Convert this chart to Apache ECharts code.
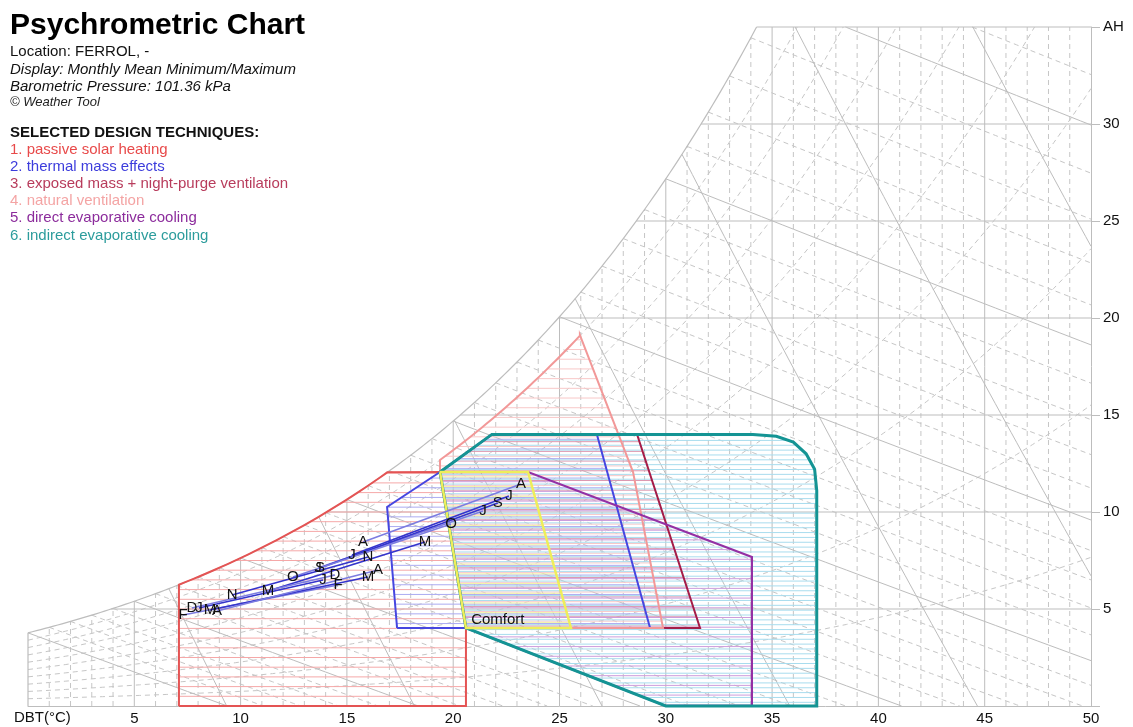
<!DOCTYPE html>
<html><head><meta charset="utf-8">
<script src="https://cdn.jsdelivr.net/npm/echarts@6/dist/echarts.min.js"></script>
<style>html,body{margin:0;padding:0;background:#fff}#c{width:1133px;height:727px}</style>
</head><body><div id="c"></div>
<script>
// ---------------- data ----------------
const PRESSURE = 101.36;
const xTickLabels = [5,10,15,20,25,30,35,40,45,50];
const yTickLabels = [5,10,15,20,25,30];
const monthLabels = ['J','F','M','A','M','J','J','A','S','O','N','D'];
const minT  = [8.04,7.29,8.56,8.89,11.29,13.64,15.24,15.76,13.73,12.46,9.60,7.71];
const minAH = [5.05,4.69,4.95,4.90,5.93,7.11,7.78,8.45,7.11,6.65,5.72,5.05];
const maxT  = [13.88,14.58,15.99,16.46,18.67,21.40,22.62,23.19,22.10,19.90,15.99,14.44];
const maxAH = [6.49,6.24,6.65,7.01,8.45,10.05,10.82,11.44,10.46,9.38,7.68,6.75];

const techniques = ['1. passive solar heating','2. thermal mass effects','3. exposed mass + night-purge ventilation','4. natural ventilation','5. direct evaporative cooling','6. indirect evaporative cooling'];
const techColors = ['#e84a4a','#3c3cdc','#b83c5c','#f4a4a4','#8c2c9c','#2c9c9c'];

// zone vertices (DBT °C, AH g/kg); ['sat',a,b] follows saturation, ['rh',r,a,b] follows an RH curve
const zonePassiveSolar = [[7.1,0],['sat',7.1,16.9],[19.38,12.06],[20.6,4.02],[20.6,0]];
const zoneThermalMass  = [[17.36,4.02],[29.26,4.02],[26.76,14.0],[21.82,14.0],[19.38,12.06],[16.89,10.26]];
const zoneExposedMass  = [[20.6,4.02],[31.61,4.02],[28.65,14.0],[21.82,14.0],[19.38,12.06]];
const zoneNaturalVent  = [[20.6,4.02],[29.87,4.02],[28.46,12.06],[25.96,19.12],['rh',0.9,25.96,19.38],[19.38,12.06]];
const zoneDirectEvap   = [[19.38,12.06],[23.52,12.06],[34.05,7.68],[34.05,0],[30.0,0],[20.6,4.02]];
const zoneIndirectEvap = [[19.38,12.06],[21.82,14.0],[34.1,14.0],[35.2,13.9],[36.0,13.6],[36.6,13.0],[37.0,12.2],[37.1,11.1],[37.1,0],[30.0,0],[20.6,4.02]];
const zoneComfort      = [[19.38,12.06],[23.52,12.06],[25.54,4.02],[20.6,4.02]];
const comfortLabel = [22.1,4.43];

// ---------------- psychrometrics ----------------
const P = PRESSURE;
const ps = t => 0.61078*Math.exp(17.27*t/(t+237.3));
const wsat = t => { const p = ps(t); return 622*p/(P-p); };
const wrh = (t,rh) => { const p = rh*ps(t); return 622*p/(P-p); };
const wwb = (t,twb) => { const w = wsat(twb)/1000; return 1000*((2501-2.326*twb)*w - 1.006*(t-twb))/(2501+1.86*t-4.186*twb); };
const wvol = (t,v) => 1000*(v*P/0.287042/(t+273.15)-1)/1.607858;
function tsat(w){ let a=-10,b=60; for(let i=0;i<60;i++){ const m=(a+b)/2; if(wsat(m)<w) a=m; else b=m; } return (a+b)/2; }
const inside = (t,w) => t>=-1e-9 && t<=50+1e-9 && w>=-1e-9 && w<=35+1e-9 && w<=wsat(t)+1e-6;
function trace(f,t0,t1,dt){
  const runs=[]; let cur=null, prevT=null, prevIn=false;
  for(let t=t0; t<=t1+1e-9; t+=dt){
    const tin = inside(t,f(t));
    if(prevT!==null && tin!==prevIn){
      let a=prevT,b=t;
      for(let i=0;i<40;i++){ const m=(a+b)/2; if(inside(m,f(m))===prevIn) a=m; else b=m; }
      const tb = prevIn ? a : b;
      if(prevIn){ cur.push([tb,f(tb)]); runs.push(cur); cur=null; } else { cur=[[tb,f(tb)]]; }
    }
    if(tin){ if(!cur) cur=[]; cur.push([t,f(t)]); }
    prevT=t; prevIn=tin;
  }
  if(cur && cur.length>1) runs.push(cur);
  return runs;
}
function expand(poly){
  const out=[];
  poly.forEach(v=>{
    if(v[0]==='sat'){ const a=v[1],b=v[2]; for(let i=0;i<=30;i++){ const t=a+(b-a)*i/30; out.push([t,wsat(t)]); } }
    else if(v[0]==='rh'){ const r=v[1],a=v[2],b=v[3]; for(let i=0;i<=30;i++){ const t=a+(b-a)*i/30; out.push([t,wrh(t,r)]); } }
    else out.push(v);
  });
  return out;
}
function hatch(poly,spacing,offset){
  const segs=[]; let ymin=Infinity,ymax=-Infinity;
  poly.forEach(p=>{ ymin=Math.min(ymin,p[1]); ymax=Math.max(ymax,p[1]); });
  for(let y=Math.floor((ymin-offset)/spacing)*spacing+offset; y<ymax; y+=spacing){
    if(y<=ymin) continue;
    const xs=[];
    for(let i=0;i<poly.length;i++){
      const a=poly[i], b=poly[(i+1)%poly.length];
      if((a[1]<=y&&b[1]>y)||(b[1]<=y&&a[1]>y)) xs.push(a[0]+(y-a[1])*(b[0]-a[0])/(b[1]-a[1]));
    }
    xs.sort((p,q)=>p-q);
    for(let k=0;k+1<xs.length;k+=2) segs.push([[xs[k],y],[xs[k+1],y]]);
  }
  return segs;
}

// ---------------- build line layers ----------------
const gridLayer=[], hatchLayer=[], zoneLayer=[];
const SOLID='#bdbdbd', DASH='#c6c6c6';
const add=(layer,pts,stroke,width,dash)=>layer.push({pts,stroke,width,dash});

for(let t=1;t<50;t++){
  const top=Math.min(35,wsat(t));
  add(gridLayer,[[t,0],[t,top]], t%5===0?SOLID:DASH, 1, t%5===0?null:[5,4]);
}
yTickLabels.forEach(w=>add(gridLayer,[[tsat(w),w],[50,w]],SOLID,1,null));
for(let r=1;r<=9;r++) trace(t=>wrh(t,r/10),0,50,0.25).forEach(run=>add(gridLayer,run,DASH,1,[5,4]));
for(let twb=0;twb<=40;twb++) trace(t=>wwb(t,twb),twb,50,0.5).forEach(run=>add(gridLayer,run,twb%5===0?SOLID:DASH,1,twb%5===0?null:[5,4]));
[0.80,0.825,0.85,0.875,0.90,0.925,0.95].forEach(v=>trace(t=>wvol(t,v),0,50,0.25).forEach(run=>add(gridLayer,run,SOLID,1,null)));
trace(wsat,0,50,0.2).forEach(run=>add(gridLayer,run,SOLID,1.2,null));
add(gridLayer,[[0,0],[0,wsat(0)]],SOLID,1.2,null);
add(gridLayer,[[tsat(35),35],[50,35]],SOLID,1.2,null);

const zones = [
  [zonePassiveSolar,'#e45454',2,'#f5a8a8',0.5,0.0],
  [zoneThermalMass,'#4646e0',2,'#acacf2',0.5,0.25],
  [zoneExposedMass,'#a41c48',2,'#dc98b0',0.5,0.125],
  [zoneNaturalVent,'#f29898',2,'#f8c8c8',0.5,0.375],
  [zoneDirectEvap,'#9430a4',2.2,'#cc9cdc',0.5,0.0625],
  [zoneIndirectEvap,'#149494',3,'#a8dcee',0.25,0.19],
  [zoneComfort,'#eeee5a',2.5,'#f2f2a4',0.5,0.31]
];
zones.forEach(z=>{ hatch(expand(z[0]),z[4],z[5]).forEach(s=>add(hatchLayer,s,z[3],1,null)); });
zones.forEach(z=>{ const poly=expand(z[0]); add(zoneLayer,poly.concat([poly[0]]),z[1],z[2],null); });

const monthLayer=[];
monthLabels.forEach((m,i)=>add(monthLayer,[[minT[i],minAH[i]],[maxT[i],maxAH[i]]],i%2?'#7c7ce0':'#3434cc',1.6,null));

function polySeries(layer,z){
  return {
    type:'custom', coordinateSystem:'cartesian2d', z, silent:true, animation:false, clip:false,
    data: layer.map((p,i)=>[p.pts[0][0],p.pts[0][1],i]), encode:{x:0,y:1},
    renderItem:(params,api)=>{
      const p=layer[api.value(2)];
      return {type:'polyline', shape:{points:p.pts.map(q=>api.coord(q))},
        style:{stroke:p.stroke,lineWidth:p.width,lineDash:p.dash||null,fill:'none'}};
    }
  };
}
const textItems=[];
monthLabels.forEach((m,i)=>{ textItems.push([minT[i],minAH[i],m]); textItems.push([maxT[i],maxAH[i],m]); });
textItems.push([comfortLabel[0],comfortLabel[1],'Comfort']);

const chart=echarts.init(document.getElementById('c'),null,{renderer:'canvas'});
const FONT='Liberation Sans, Arial, sans-serif';
const txt=(x,y,text,font,fill)=>({type:'text',left:x,top:y,silent:true,style:{text,font,fill:fill||'#111'}});
const graphics=[
  txt(10,11,'Psychrometric Chart','bold 30px '+FONT,'#000'),
  txt(10,44,'Location: FERROL, -','15px '+FONT,'#111'),
  txt(10,62,'Display: Monthly Mean Minimum/Maximum','italic 15px '+FONT,'#111'),
  txt(10,79,'Barometric Pressure: 101.36 kPa','italic 15px '+FONT,'#111'),
  txt(10,96,'© Weather Tool','italic 13px '+FONT,'#222'),
  txt(10,125,'SELECTED DESIGN TECHNIQUES:','bold 15px '+FONT,'#111'),
  txt(14,710,'DBT(°C)','15px '+FONT,'#111')
];
techniques.forEach((t,i)=>graphics.push(txt(10,142+i*17.2,t,'15px '+FONT,techColors[i])));

chart.setOption({
  animation:false,
  backgroundColor:'#fff',
  grid:{left:28,right:42,top:27,bottom:21},
  xAxis:{type:'value',min:0,max:50,interval:5,
    axisLine:{show:true,onZero:false,lineStyle:{color:SOLID}},axisTick:{show:false},splitLine:{show:false},
    axisLabel:{formatter:v=>xTickLabels.includes(v)?String(v):'',color:'#111',fontSize:15,fontFamily:FONT,margin:5,showMaxLabel:true}},
  yAxis:{type:'value',position:'right',min:0,max:35,interval:5,
    axisLine:{show:true,onZero:false,lineStyle:{color:SOLID}},axisTick:{show:true,length:9,lineStyle:{color:SOLID}},splitLine:{show:false},
    axisLabel:{formatter:v=>v===35?'AH':(yTickLabels.includes(v)?String(v):''),color:'#111',fontSize:15,fontFamily:FONT,margin:12,showMaxLabel:true,showMinLabel:true}},
  graphic:graphics,
  series:[
    polySeries(gridLayer,1),
    polySeries(hatchLayer,2),
    polySeries(zoneLayer,3),
    polySeries(monthLayer,4),
    {type:'custom',coordinateSystem:'cartesian2d',z:5,silent:true,animation:false,clip:false,
      data:textItems,encode:{x:0,y:1},
      renderItem:(params,api)=>{
        const c=api.coord([api.value(0),api.value(1)]);
        return {type:'text',x:c[0],y:c[1],style:{text:textItems[params.dataIndex][2],font:'15px '+FONT,fill:'#111',align:'center',verticalAlign:'middle'}};
      }}
  ]
});
</script></body></html>
